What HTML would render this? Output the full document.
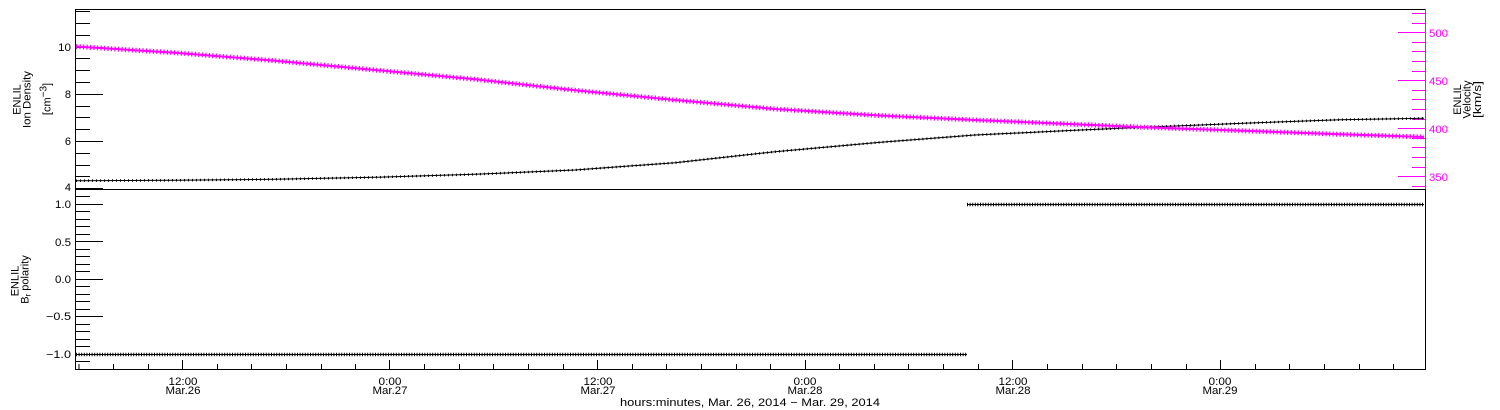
<!DOCTYPE html>
<html>
<head>
<meta charset="utf-8">
<style>
  html, body { margin: 0; padding: 0; background: #fff; }
  svg { display: block; }
  text { font-family: "Liberation Sans", "DejaVu Sans", sans-serif; font-size: 11px; fill: #000; }
  .mg { fill: #ff00ff; }
</style>
</head>
<body>
<svg width="1500" height="410" viewBox="0 0 1500 410" xmlns="http://www.w3.org/2000/svg">
  <rect x="0" y="0" width="1500" height="410" fill="#fff"/>

  <!-- Frame -->
  <g stroke="#000" stroke-width="1" fill="none">
    <line x1="75" y1="9.5" x2="1426" y2="9.5"/>
    <line x1="75.5" y1="9" x2="75.5" y2="370"/>
    <line x1="75" y1="189.5" x2="1426" y2="189.5"/>
    <line x1="75" y1="369.5" x2="1426" y2="369.5"/>
    <line x1="1425.5" y1="189" x2="1425.5" y2="370"/>
  </g>
  <line x1="1425.5" y1="9" x2="1425.5" y2="189" stroke="#ff00ff" stroke-width="1"/>

  <!-- Top panel left ticks -->
  <path stroke="#000" stroke-width="1" fill="none"
        d="M75 11.5h15 M75 23.5h15 M75 35.5h15 M75 58.5h15 M75 70.5h15 M75 82.5h15
           M75 106.5h15 M75 117.5h15 M75 129.5h15 M75 153.5h15 M75 165.5h15 M75 176.5h15
           M75 47.5h28 M75 94.5h28 M75 141.5h28 M75 188.5h28"/>
  <g text-anchor="end">
    <text x="71" y="51" textLength="13" lengthAdjust="spacingAndGlyphs">10</text>
    <text x="71" y="98">8</text>
    <text x="71" y="145">6</text>
    <text x="71" y="191">4</text>
  </g>

  <!-- Right axis (velocity, magenta) -->
  <path stroke="#ff00ff" stroke-width="1" fill="none"
        d="M1412 13.5h13 M1412 23.5h13 M1412 42.5h13 M1412 51.5h13 M1412 61.5h13 M1412 71.5h13
           M1412 90.5h13 M1412 99.5h13 M1412 109.5h13 M1412 119.5h13
           M1412 138.5h13 M1412 147.5h13 M1412 157.5h13 M1412 167.5h13 M1412 186.5h13
           M1398 32.5h27 M1398 80.5h27 M1398 128.5h27 M1398 176.5h27"/>
  <text class="mg" x="1429" y="37" textLength="19" lengthAdjust="spacingAndGlyphs">500</text>
  <text class="mg" x="1429" y="85" textLength="19" lengthAdjust="spacingAndGlyphs">450</text>
  <text class="mg" x="1429" y="133" textLength="19" lengthAdjust="spacingAndGlyphs">400</text>
  <text class="mg" x="1429" y="181" textLength="19" lengthAdjust="spacingAndGlyphs">350</text>

  <!-- Left label top -->
  <text text-anchor="middle" transform="translate(20.5,99.5) rotate(-90)">ENLIL</text>
  <text text-anchor="middle" transform="translate(30.5,99.5) rotate(-90)" textLength="57" lengthAdjust="spacingAndGlyphs">Ion Density</text>
  <text text-anchor="middle" transform="translate(50.5,99) rotate(-90)">[cm<tspan dy="-4" font-size="10">−3</tspan><tspan dy="4">]</tspan></text>

  <!-- Right label -->
  <text text-anchor="middle" transform="translate(1461,99.5) rotate(-90)">ENLIL</text>
  <text text-anchor="middle" transform="translate(1470.5,99.5) rotate(-90)" textLength="38" lengthAdjust="spacingAndGlyphs">Velocity</text>
  <text text-anchor="middle" transform="translate(1481,99.5) rotate(-90)" textLength="37" lengthAdjust="spacingAndGlyphs">[km/s]</text>

  <!-- Bottom panel left ticks -->
  <path stroke="#000" stroke-width="1" fill="none"
        d="M75 196.5h15 M75 211.5h15 M75 219.5h15 M75 226.5h15 M75 234.5h15
           M75 249.5h15 M75 256.5h15 M75 264.5h15 M75 271.5h15
           M75 286.5h15 M75 294.5h15 M75 301.5h15 M75 309.5h15
           M75 324.5h15 M75 331.5h15 M75 339.5h15 M75 346.5h15 M75 361.5h15
           M75 204.5h28 M75 241.5h28 M75 279.5h28 M75 316.5h28 M75 354.5h28"/>
  <g text-anchor="end">
    <text x="71" y="208" textLength="16" lengthAdjust="spacingAndGlyphs">1.0</text>
    <text x="71" y="246" textLength="16" lengthAdjust="spacingAndGlyphs">0.5</text>
    <text x="71" y="283" textLength="16" lengthAdjust="spacingAndGlyphs">0.0</text>
    <text x="71" y="320" textLength="25" lengthAdjust="spacingAndGlyphs">−0.5</text>
    <text x="71" y="358" textLength="25" lengthAdjust="spacingAndGlyphs">−1.0</text>
  </g>
  <text text-anchor="middle" transform="translate(18.5,281) rotate(-90)">ENLIL</text>
  <text text-anchor="middle" transform="translate(28.5,279.5) rotate(-90)">B<tspan dy="2" font-size="8">r</tspan><tspan dy="-2"> polarity</tspan></text>

  <!-- X axis ticks -->
  <path stroke="#000" stroke-width="1" fill="none"
        d="M79 364v5 M113.5 364v5 M148.5 364v5 M217.5 364v5 M251.5 364v5 M286.5 364v5 M321.5 364v5 M355.5 364v5
           M424.5 364v5 M459.5 364v5 M493.5 364v5 M528.5 364v5 M563.5 364v5
           M632.5 364v5 M666.5 364v5 M701.5 364v5 M736.5 364v5 M770.5 364v5
           M839.5 364v5 M874.5 364v5 M908.5 364v5 M943.5 364v5 M978.5 364v5
           M1047.5 364v5 M1082.5 364v5 M1116.5 364v5 M1151.5 364v5 M1186.5 364v5
           M1255.5 364v5 M1289.5 364v5 M1324.5 364v5 M1359.5 364v5 M1393.5 364v5
           M182.5 360v9 M389.5 360v9 M597.5 360v9 M805.5 360v9 M1012.5 360v9 M1220.5 360v9"/>
  <g text-anchor="middle">
    <text x="183" y="385" textLength="29" lengthAdjust="spacingAndGlyphs">12:00</text><text x="183" y="394" textLength="35" lengthAdjust="spacingAndGlyphs">Mar.26</text>
    <text x="390" y="385" textLength="23" lengthAdjust="spacingAndGlyphs">0:00</text><text x="390" y="394" textLength="35" lengthAdjust="spacingAndGlyphs">Mar.27</text>
    <text x="598" y="385" textLength="29" lengthAdjust="spacingAndGlyphs">12:00</text><text x="598" y="394" textLength="35" lengthAdjust="spacingAndGlyphs">Mar.27</text>
    <text x="805" y="385" textLength="23" lengthAdjust="spacingAndGlyphs">0:00</text><text x="805" y="394" textLength="35" lengthAdjust="spacingAndGlyphs">Mar.28</text>
    <text x="1013" y="385" textLength="29" lengthAdjust="spacingAndGlyphs">12:00</text><text x="1013" y="394" textLength="35" lengthAdjust="spacingAndGlyphs">Mar.28</text>
    <text x="1220" y="385" textLength="23" lengthAdjust="spacingAndGlyphs">0:00</text><text x="1220" y="394" textLength="35" lengthAdjust="spacingAndGlyphs">Mar.29</text>
    <text x="750" y="406" textLength="260" lengthAdjust="spacingAndGlyphs">hours:minutes, Mar. 26, 2014 − Mar. 29, 2014</text>
  </g>

  <!-- Black density curve -->
  <g fill="none" stroke="#000">
    <polyline stroke-width="1"
      points="76,180.7 175,180.3 275,179.3 375,177.3 475,174.3 575,170 675,162.7 775,151.7 875,142.7 975,135 1075,130.3 1150,127 1250,123 1340,119.7 1424,118.3"/>
    <polyline stroke-width="2.5" stroke-dasharray="1 3"
      points="76,180.7 175,180.3 275,179.3 375,177.3 475,174.3 575,170 675,162.7 775,151.7 875,142.7 975,135 1075,130.3 1150,127 1250,123 1340,119.7 1424,118.3"/>
  </g>

  <!-- Magenta velocity curve -->
  <g fill="none" stroke="#ff00ff">
    <polyline stroke-width="2"
      points="76,46.5 175,52.7 275,60.7 375,70 475,79.3 575,90.3 675,100 775,109 875,115.3 975,120 1075,124.3 1150,127.5 1250,131 1340,134.3 1424,137"/>
    <polyline stroke-width="5" stroke-dasharray="1.2 2.3"
      points="76,46.5 175,52.7 275,60.7 375,70 475,79.3 575,90.3 675,100 775,109 875,115.3 975,120 1075,124.3 1150,127.5 1250,131 1340,134.3 1424,137"/>
  </g>

  <!-- Polarity step -->
  <g fill="none" stroke="#000">
    <line x1="76" y1="354.5" x2="967" y2="354.5" stroke-width="1"/>
    <line x1="76" y1="354.5" x2="967" y2="354.5" stroke-width="3.5" stroke-dasharray="1 1.6"/>
    <line x1="967" y1="204.5" x2="1424" y2="204.5" stroke-width="1"/>
    <line x1="967" y1="204.5" x2="1424" y2="204.5" stroke-width="3.5" stroke-dasharray="1 1.6"/>
  </g>
</svg>
</body>
</html>
